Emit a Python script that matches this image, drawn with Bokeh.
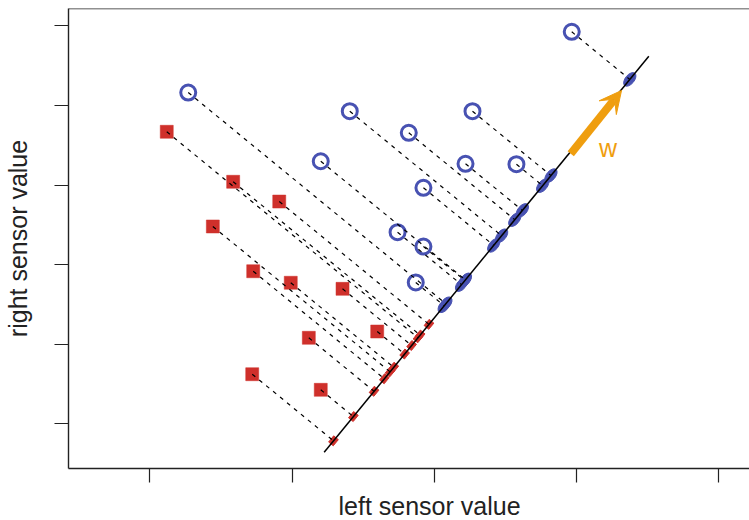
import math
from bokeh.plotting import figure
from bokeh.models import Range1d, FixedTicker, Arrow, VeeHead, Span, Label, Title
from bokeh.embed import file_html
from bokeh.resources import INLINE

# ---- data ----
X_TICKS = [1, 2, 3, 4, 5]
Y_TICKS = [1, 2, 3, 4, 5, 6]

blue_x = [1.269, 2.405, 3.268, 3.966, 2.820, 2.201, 3.219, 3.577, 2.923, 2.741, 2.923, 2.869]
blue_y = [5.162, 4.927, 4.927, 5.924, 4.656, 4.299, 4.267, 4.262, 3.966, 3.408, 3.228, 2.777]

red_x = [1.118, 1.585, 1.909, 1.442, 1.726, 1.990, 2.354, 2.598, 2.117, 1.719, 2.201]
red_y = [4.669, 4.041, 3.793, 3.480, 2.918, 2.773, 2.697, 2.161, 2.082, 1.625, 1.429]

# projection axis (end points of the solid line)
axis_x = [2.225, 4.508]
axis_y = [0.646, 5.618]

# weight vector arrow
w_x = [3.959, 4.316]
w_y = [4.392, 5.187]
w_label_x, w_label_y = 4.222, 4.468

x_label = "left sensor value"
y_label = "right sensor value"

# ---- layout ----
FW, FH = 681, 460
X0 = 0.427
X1 = X0 + FW / 142.2
Y0, Y1 = 0.441, 6.217
SX = FW / (X1 - X0)
SY = FH / (Y1 - Y0)

BLUE = "#4852B2"
RED = "#CF302B"
ORANGE = "#EF9E0F"
INK = "#222222"
FONT = "Liberation Sans"

# projection in screen-space geometry (perpendicular on the page)
ax0, ay0 = axis_x[0] * SX, axis_y[0] * SY
dx, dy = (axis_x[1] - axis_x[0]) * SX, (axis_y[1] - axis_y[0]) * SY
nrm = math.hypot(dx, dy)
ux, uy = dx / nrm, dy / nrm
ANG = math.atan2(dy, dx)


def project(xs, ys):
    px, py = [], []
    for x, y in zip(xs, ys):
        t = (x * SX - ax0) * ux + (y * SY - ay0) * uy
        px.append((ax0 + t * ux) / SX)
        py.append((ay0 + t * uy) / SY)
    return px, py


bpx, bpy = project(blue_x, blue_y)
rpx, rpy = project(red_x, red_y)

p = figure(frame_width=FW, frame_height=FH,
           x_range=Range1d(X0, X1), y_range=Range1d(Y0, Y1),
           output_backend="svg", toolbar_location=None,
           min_border_left=67, min_border_right=0,
           min_border_top=8, min_border_bottom=0)
p.grid.visible = False
p.outline_line_color = None
p.background_fill_color = "white"

p.xaxis.ticker = FixedTicker(ticks=X_TICKS)
p.yaxis.ticker = FixedTicker(ticks=Y_TICKS)
for ax in (p.xaxis[0], p.yaxis[0]):
    ax.major_label_text_font_size = "0px"
    ax.major_label_standoff = 0
    ax.minor_tick_line_color = None
    ax.major_tick_out = 14
    ax.major_tick_in = 0
    ax.major_tick_line_color = INK
    ax.major_tick_line_width = 1.2
    ax.axis_line_color = INK
    ax.axis_line_width = 1.4

p.yaxis.axis_label = y_label
p.yaxis.axis_label_standoff = 23
p.yaxis.axis_label_text_font = FONT
p.yaxis.axis_label_text_font_size = "25px"
p.yaxis.axis_label_text_font_style = "normal"
p.yaxis.axis_label_text_color = INK

p.add_layout(Title(text=x_label, align="left", offset=270, standoff=15,
                   text_font=FONT, text_font_size="25px",
                   text_font_style="normal", text_color=INK), "below")

p.add_layout(Span(location=Y1, dimension="width", line_color=INK, line_width=1.4))

# data points
p.scatter(blue_x, blue_y, marker="circle", size=15, fill_color=None,
          line_color=BLUE, line_width=3)
p.scatter(red_x, red_y, marker="square", size=13, fill_color=RED,
          line_color=RED, line_width=0.5)

# projections
p.ellipse(x=bpx, y=bpy, width=16, height=9, angle=ANG,
          width_units="screen", height_units="screen",
          fill_color=BLUE, line_color=BLUE)
p.rect(x=rpx, y=rpy, width=8, height=6, angle=ANG,
       width_units="screen", height_units="screen",
       fill_color=RED, line_color=RED)

# projection axis and dashed connectors
p.line(axis_x, axis_y, line_color="black", line_width=1.5)
p.segment(x0=blue_x, y0=blue_y, x1=bpx, y1=bpy, line_color="black",
          line_width=1.2, line_dash="4 5")
p.segment(x0=red_x, y0=red_y, x1=rpx, y1=rpy, line_color="black",
          line_width=1.2, line_dash="4 5")

# w arrow
p.add_layout(Arrow(end=VeeHead(size=22, fill_color=ORANGE, line_color=ORANGE),
                   x_start=w_x[0], y_start=w_y[0], x_end=w_x[1], y_end=w_y[1],
                   line_color=ORANGE, line_width=8))
p.add_layout(Label(x=w_label_x, y=w_label_y, text="w", text_align="center",
                   text_baseline="middle", text_font=FONT,
                   text_font_size="25px", text_color=ORANGE))

open("out.html", "w").write(file_html(p, INLINE))
